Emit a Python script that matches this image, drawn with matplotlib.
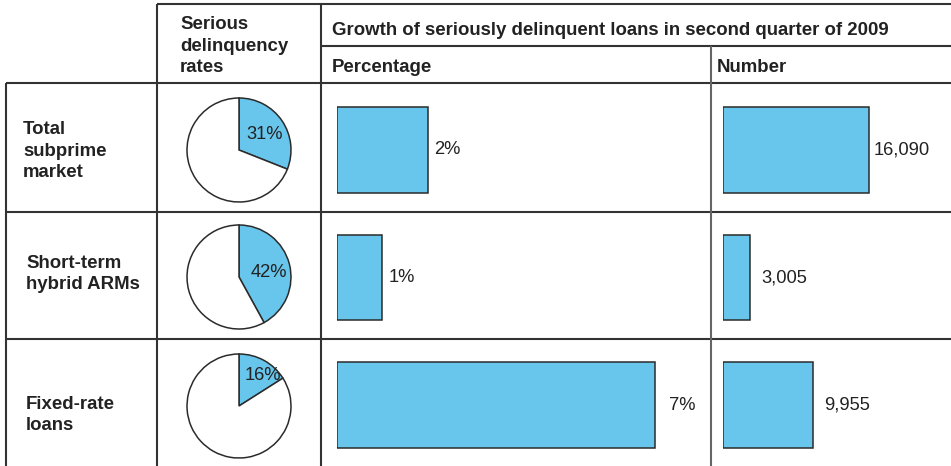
import numpy as np
import matplotlib.pyplot as plt

plt.rcParams['font.family'] = ['Liberation Sans', 'DejaVu Sans']

##### Data

row_labels = [["Total", "subprime", "market"],
              ["Short-term", "hybrid ARMs"],
              ["Fixed-rate", "loans"]]
delinquency_rate = [31, 42, 16]          # percent of loans seriously delinquent
growth_pct = [2, 1, 7]                   # growth in second quarter of 2009, percent
growth_num = [16090, 3005, 9955]         # growth in second quarter of 2009, loans

header_rates = ["Serious", "delinquency", "rates"]
header_growth = "Growth of seriously delinquent loans in second quarter of 2009"
header_pct = "Percentage"
header_num = "Number"


##### Layout (pixels)

W, H = 951, 466
blue = "#68c5eb"
edge = "#2b2b2b"
ink = "#222222"
fs = 13.2
fs_bold = 13.4

fig = plt.figure(figsize=(W / 100, H / 100), dpi=100)


def px_axes(x0, y0, x1, y1):
    # axes from a pixel box measured from the top-left corner
    return fig.add_axes([x0 / W, 1 - y1 / H, (x1 - x0) / W, (y1 - y0) / H])


grid = px_axes(0, 0, W, H)
grid.set_xlim(0, W)
grid.set_ylim(H, 0)
grid.axis("off")

# table rules
dark, grey = "#333333", "#666666"
for y, x0 in [(4, 157), (46, 321), (83, 6), (212, 6), (339, 6)]:
    grid.plot([x0, W], [y, y], color=dark, lw=1.5, solid_capstyle="butt")
for x, y0, c in [(6, 83, dark), (157, 4, dark), (321, 4, dark), (711, 46, grey)]:
    grid.plot([x, x], [y0, H], color=c, lw=1.5, solid_capstyle="butt")


def lines_text(x, baselines, lines, size=fs, **kw):
    for b, s in zip(baselines, lines):
        grid.text(x, b, s, ha="left", va="baseline", fontsize=size, color=ink, **kw)


# headers
lines_text(180, [29, 51, 72], header_rates, size=fs_bold, fontweight="bold")
lines_text(332, [35], [header_growth], size=fs_bold, fontweight="bold")
lines_text(332, [72], [header_pct], size=fs_bold, fontweight="bold")
lines_text(717, [72], [header_num], size=fs_bold, fontweight="bold")

# row labels
row_baselines = [[134, 156, 177], [268, 289], [409, 430]]
row_x = [23, 26, 26]
for x, b, lab in zip(row_x, row_baselines, row_labels):
    lines_text(x, b, lab, size=fs_bold, fontweight="bold")


##### Pies

pie_cy = [150, 277, 406]
pie_r = 52
label_pos = [(0.50, 0.29), (0.57, 0.09), (0.45, 0.58)]
for cy, rate, (lx, ly) in zip(pie_cy, delinquency_rate, label_pos):
    half = pie_r * 1.25
    ax = px_axes(239 - half, cy - half, 239 + half, cy + half)
    ax.pie([rate, 100 - rate], colors=[blue, "white"], startangle=90,
           counterclock=False,
           wedgeprops=dict(edgecolor=edge, linewidth=1.1))
    ax.set_xlim(-1.25, 1.25)
    ax.set_ylim(-1.25, 1.25)
    ax.text(lx, ly, f"{rate}%", ha="center", va="center", fontsize=fs, color=ink)


##### Bars

row_pos = np.arange(3)
bar_h = 0.67

ax_p = px_axes(337, 86, 337 + 8 * 45.4, 469)
ax_p.barh(row_pos, growth_pct, height=bar_h, color=blue, edgecolor=edge, linewidth=1.1)
ax_p.set_xlim(0, 8)
ax_p.set_ylim(2.5, -0.5)
ax_p.axis("off")
pct_gap = [6, 6, 14]
for i, v in enumerate(growth_pct):
    ax_p.annotate(f"{v}%", (v, i), xytext=(pct_gap[i] * 0.72, 0), textcoords="offset points",
                  ha="left", va="center", fontsize=fs, color=ink)

ax_n = px_axes(723, 86, 723 + 25000 * 0.00905, 469)
ax_n.barh(row_pos, growth_num, height=bar_h, color=blue, edgecolor=edge, linewidth=1.1)
ax_n.set_xlim(0, 25000)
ax_n.set_ylim(2.5, -0.5)
ax_n.axis("off")
num_gap = [5, 11, 11]
for i, v in enumerate(growth_num):
    ax_n.annotate(f"{v:,}", (v, i), xytext=(num_gap[i] * 0.72, 0), textcoords="offset points",
                  ha="left", va="center", fontsize=fs, color=ink)

fig.savefig("out.png", dpi=100)
